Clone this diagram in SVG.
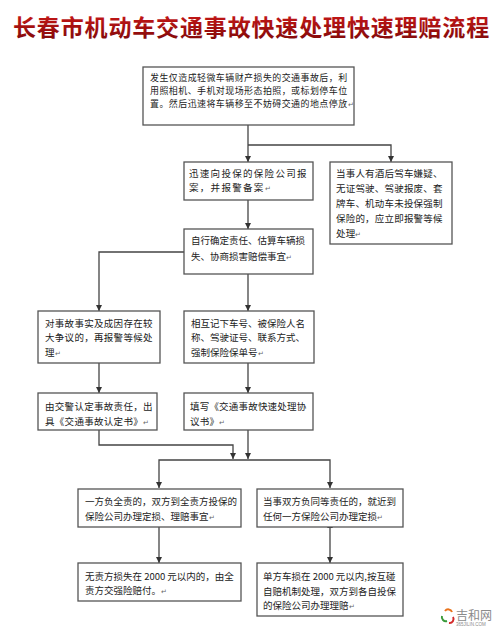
<svg xmlns="http://www.w3.org/2000/svg" width="500" height="633" viewBox="0 0 500 633">
<defs>
<linearGradient id="tg" x1="0" y1="0" x2="0" y2="1">
<stop offset="0" stop-color="#d41a1a"/>
<stop offset="1" stop-color="#7a0808"/>
</linearGradient>
<marker id="ah" markerUnits="userSpaceOnUse" markerWidth="6" markerHeight="6" refX="6" refY="3" orient="auto">
<path d="M0,0 L6,3 L0,6 z" fill="#333"/>
</marker>
</defs>
<style>
.box{fill:#fff;stroke:#555;stroke-width:1.3}
.t{font-family:"Noto Sans CJK SC","Noto Sans",sans-serif;font-size:9.5px;fill:#222}
.t1{font-size:8.95px;letter-spacing:0.47px}
.pm{font-size:7px;fill:#666}
.c{fill:none;stroke:#444;stroke-width:1.3}
.ca{fill:none;stroke:#444;stroke-width:1.3;marker-end:url(#ah)}
</style>
<rect width="500" height="633" fill="#fff"/>
<text x="13" y="36" font-family="'Noto Sans CJK SC',sans-serif" font-weight="bold" font-size="23" letter-spacing="0.85" fill="url(#tg)">长春市机动车交通事故快速处理快速理赔流程</text>

<g id="connectors">
<path class="ca" d="M248,125 V162"/>
<path class="ca" d="M248,145 H391 V162"/>
<path class="ca" d="M248,200 V229"/>
<path class="ca" d="M184,252 H99 V311"/>
<path class="ca" d="M248,274 V311"/>
<path class="ca" d="M99,363 V393"/>
<path class="ca" d="M248,363 V393"/>
<path class="ca" d="M99,430 V445 H233 V459"/>
<path class="ca" d="M248,430 V459"/>
<path class="ca" d="M248,460 H159 V488"/>
<path class="ca" d="M248,460 H330 V488"/>
<path class="ca" d="M159,527 V563"/>
<path class="ca" d="M330,527 V563"/>
<path d="M248,119 L251,124 L245,124 z" fill="#333"/>
<path d="M330,523 L333,528 L327,528 z" fill="#333"/>
</g>

<g id="n1">
<rect class="box" x="143" y="67" width="211" height="58"/>
<text class="t t1" x="150" y="80.5">发生仅造成轻微车辆财产损失的交通事故后，利</text>
<text class="t t1" x="150" y="93.5">用照相机、手机对现场形态拍照，或标划停车位</text>
<text class="t t1" x="150" y="106.5">置。然后迅速将车辆移至不妨碍交通的地点停放<tspan class="pm" letter-spacing="0">↵</tspan></text>
</g>

<g id="n2">
<rect class="box" x="184" y="162" width="129" height="38"/>
<text class="t" x="189" y="177" letter-spacing="1.3">迅速向投保的保险公司报</text>
<text class="t" x="189" y="191" letter-spacing="1.3">案，并报警备案<tspan class="pm" letter-spacing="0">↵</tspan></text>
</g>

<g id="n3">
<rect class="box" x="330" y="162" width="122" height="82"/>
<text class="t" x="336" y="176.5" letter-spacing="0.2">当事人有酒后驾车嫌疑、</text>
<text class="t" x="336" y="191.5" letter-spacing="0.2">无证驾驶、驾驶报废、套</text>
<text class="t" x="336" y="206.5" letter-spacing="0.2">牌车、机动车未投保强制</text>
<text class="t" x="336" y="222" letter-spacing="0.2">保险的，应立即报警等候</text>
<text class="t" x="336" y="236.5" letter-spacing="0.2">处理<tspan class="pm">↵</tspan></text>
</g>

<g id="n4">
<rect class="box" x="184" y="229" width="129" height="45"/>
<text class="t" x="191" y="243.5">自行确定责任、估算车辆损</text>
<text class="t" x="191" y="259.5">失、协商损害赔偿事宜<tspan class="pm">↵</tspan></text>
</g>

<g id="n5">
<rect class="box" x="38" y="311" width="122" height="52"/>
<text class="t" x="45" y="326.5" letter-spacing="0.3">对事故事实及成因存在较</text>
<text class="t" x="45" y="340.5" letter-spacing="0.3">大争议的，再报警等候处</text>
<text class="t" x="45" y="355.5" letter-spacing="0.3">理<tspan class="pm">↵</tspan></text>
</g>

<g id="n6">
<rect class="box" x="184" y="311" width="130" height="52"/>
<text class="t" x="191" y="326.5">相互记下车号、被保险人名</text>
<text class="t" x="191" y="340.5">称、驾驶证号、联系方式、</text>
<text class="t" x="191" y="355.5">强制保险保单号<tspan class="pm">↵</tspan></text>
</g>

<g id="n7">
<rect class="box" x="38" y="393" width="119" height="37"/>
<text class="t" x="45" y="409.5" letter-spacing="0.3">由交警认定事故责任，出</text>
<text class="t" x="45" y="424.5" letter-spacing="0.3">具《交通事故认定书》<tspan class="pm">↵</tspan></text>
</g>

<g id="n8">
<rect class="box" x="184" y="393" width="129" height="37"/>
<text class="t" x="190" y="409.5" letter-spacing="0.2">填写《交通事故快速处理协</text>
<text class="t" x="190" y="424.5" letter-spacing="0.2">议书》<tspan class="pm">↵</tspan></text>
</g>

<g id="n9">
<rect class="box" x="78" y="489" width="163" height="38"/>
<text class="t" x="85" y="504.5">一方负全责的，双方到全责方投保的</text>
<text class="t" x="85" y="519.5">保险公司办理定损、理赔事宜<tspan class="pm">↵</tspan></text>
</g>

<g id="n10">
<rect class="box" x="257" y="489" width="146" height="38"/>
<text class="t" x="263" y="504.5">当事双方负同等责任的，就近到</text>
<text class="t" x="263" y="519.5">任何一方保险公司办理定损<tspan class="pm">↵</tspan></text>
</g>

<g id="n11">
<rect class="box" x="78" y="563" width="163" height="38"/>
<text class="t" x="85" y="579.5">无责方损失在 2000 元以内的，由全</text>
<text class="t" x="85" y="593.5">责方交强险赔付。<tspan class="pm">↵</tspan></text>
</g>

<g id="n12">
<rect class="box" x="257" y="563" width="146" height="53"/>
<text class="t" x="263" y="579.5">单方车损在 2000 元以内,按互碰</text>
<text class="t" x="263" y="594.5">自赔机制处理，双方到各自投保</text>
<text class="t" x="263" y="608.5">的保险公司办理理赔<tspan class="pm">↵</tspan></text>
</g>

<g id="watermark">
<path d="M445,611 a4,4 0 0 1 7,1" fill="none" stroke="#e9731b" stroke-width="2"/>
<path d="M442,616 a4,4 0 0 0 5,5" fill="none" stroke="#3a9a3a" stroke-width="2"/>
<path d="M449,623 a4,4 0 0 0 4,-6" fill="none" stroke="#d42a2a" stroke-width="2"/>
<text x="456" y="620" font-family="'Noto Sans CJK SC',sans-serif" font-size="12" fill="#8a8a8a">吉和网</text>
<text x="456" y="626" font-family="'Liberation Sans',sans-serif" font-size="4.5" fill="#8a8a8a">365JILIN.COM</text>
</g>
</svg>
